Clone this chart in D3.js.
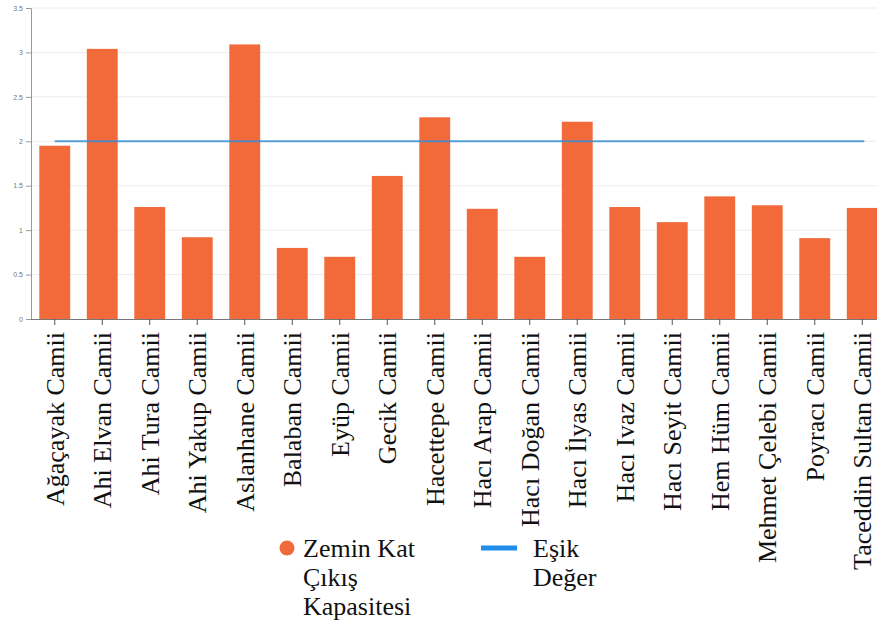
<!DOCTYPE html>
<html>
<head>
<meta charset="utf-8">
<script src="https://cdn.jsdelivr.net/npm/d3@7"></script>
<style>
  body { margin: 0; background: #fff; }
  svg { display: block; }
  .serif { font-family: "Liberation Serif", "Times New Roman", serif; }
</style>
</head>
<body>
<svg id="chart" width="877" height="627"></svg>
<script>
// data
const mosques = ["Ağaçayak Camii", "Ahi Elvan Camii", "Ahi Tura Camii", "Ahi Yakup Camii",
  "Aslanhane Camii", "Balaban Camii", "Eyüp Camii", "Gecik Camii", "Hacettepe Camii",
  "Hacı Arap Camii", "Hacı Doğan Camii", "Hacı İlyas Camii", "Hacı Ivaz Camii",
  "Hacı Seyit Camii", "Hem Hüm Camii", "Mehmet Çelebi Camii", "Poyracı Camii",
  "Taceddin Sultan Camii"];
const capacity = [1.95, 3.04, 1.26, 0.92, 3.09, 0.80, 0.70, 1.61, 2.27, 1.24, 0.70,
  2.22, 1.26, 1.09, 1.38, 1.28, 0.91, 1.25];
const threshold = 2;
const yTicks = [0, 0.5, 1, 1.5, 2, 2.5, 3, 3.5];
const legendItems = [
  { lines: ["Zemin Kat", "Çıkış", "Kapasitesi"], type: "dot" },
  { lines: ["Eşik", "Değer"], type: "line" }
];

const svg = d3.select("#chart"),
      width = +svg.attr("width");

const marginLeft = 31, plotTop = 8, plotBottom = 319;
const orange = "#f2693a", blue = "#3a8fd2";

const x = d3.scaleBand()
    .domain(mosques)
    .range([marginLeft, marginLeft + mosques.length * 47.5])
    .paddingInner(0.35)
    .paddingOuter(0.175);

const y = d3.scaleLinear()
    .domain([0, 3.5])
    .range([plotBottom, plotTop]);

// grid
svg.append("g")
  .selectAll("line")
  .data(yTicks.slice(1))
  .enter()
  .append("line")
    .attr("x1", marginLeft).attr("x2", width)
    .attr("y1", d => y(d)).attr("y2", d => y(d))
    .style("stroke", "#ececec");

// bars
svg.append("g")
  .selectAll("rect")
  .data(mosques)
  .enter()
  .append("rect")
    .attr("x", d => x(d))
    .attr("width", x.bandwidth())
    .attr("y", (d, i) => y(capacity[i]))
    .attr("height", (d, i) => y(0) - y(capacity[i]))
    .attr("fill", orange);

// threshold line
svg.append("line")
    .attr("x1", x(mosques[0]) + x.bandwidth() / 2)
    .attr("x2", x(mosques[mosques.length - 1]) + x.bandwidth() / 2 + 2)
    .attr("y1", y(threshold)).attr("y2", y(threshold))
    .style("stroke", blue)
    .style("stroke-width", 2)
    .style("opacity", 0.85);

// y axis
const yAxis = svg.append("g")
    .attr("transform", `translate(${marginLeft},0)`)
    .call(d3.axisLeft(y).tickValues(yTicks).tickSize(5).tickFormat(d3.format("")));
yAxis.select(".domain").style("stroke", "#999");
yAxis.selectAll(".tick line").style("stroke", "#999");
yAxis.selectAll("text")
    .style("font-family", "Arial, 'Liberation Sans', sans-serif")
    .style("font-size", "7px")
    .style("fill", "#777");

// x axis
const xAxis = svg.append("g")
    .attr("transform", `translate(0,${plotBottom})`)
    .call(d3.axisBottom(x).tickSize(6).tickSizeOuter(0));
xAxis.attr("font-family", null);
xAxis.select(".domain")
    .attr("d", `M${marginLeft},0.5H${width}`)
    .style("stroke", "#777");
xAxis.selectAll(".tick line").style("stroke", "#555");
xAxis.selectAll("text")
    .attr("class", "serif")
    .attr("transform", "rotate(-90)")
    .attr("x", -13)
    .attr("y", 0)
    .attr("dy", "0.35em")
    .style("text-anchor", "end")
    .style("font-size", "26px")
    .style("fill", "#111");

// legend
const legend = svg.append("g").attr("transform", "translate(287,548)");
const lg = legend.selectAll("g")
  .data(legendItems)
  .enter()
  .append("g")
    .attr("transform", (d, i) => `translate(${i * 210},0)`);

lg.filter(d => d.type === "dot")
  .append("circle")
    .attr("r", 7.5)
    .attr("fill", orange);

lg.filter(d => d.type === "line")
  .append("line")
    .attr("x1", -16).attr("x2", 20)
    .attr("y1", 0).attr("y2", 0)
    .style("stroke", "#1e8ee8")
    .style("stroke-width", 5);

lg.append("text")
    .attr("class", "serif")
    .attr("x", (d, i) => i === 0 ? 16 : 36)
    .attr("y", 9)
    .style("font-size", "26px")
    .style("fill", "#111")
  .selectAll("tspan")
  .data(d => d.lines)
  .enter()
  .append("tspan")
    .attr("class", "serif")
    .attr("x", function() { return d3.select(this.parentNode).attr("x"); })
    .attr("dy", (d, i) => i === 0 ? 0 : 29)
    .text(d => d);
</script>
</body>
</html>
